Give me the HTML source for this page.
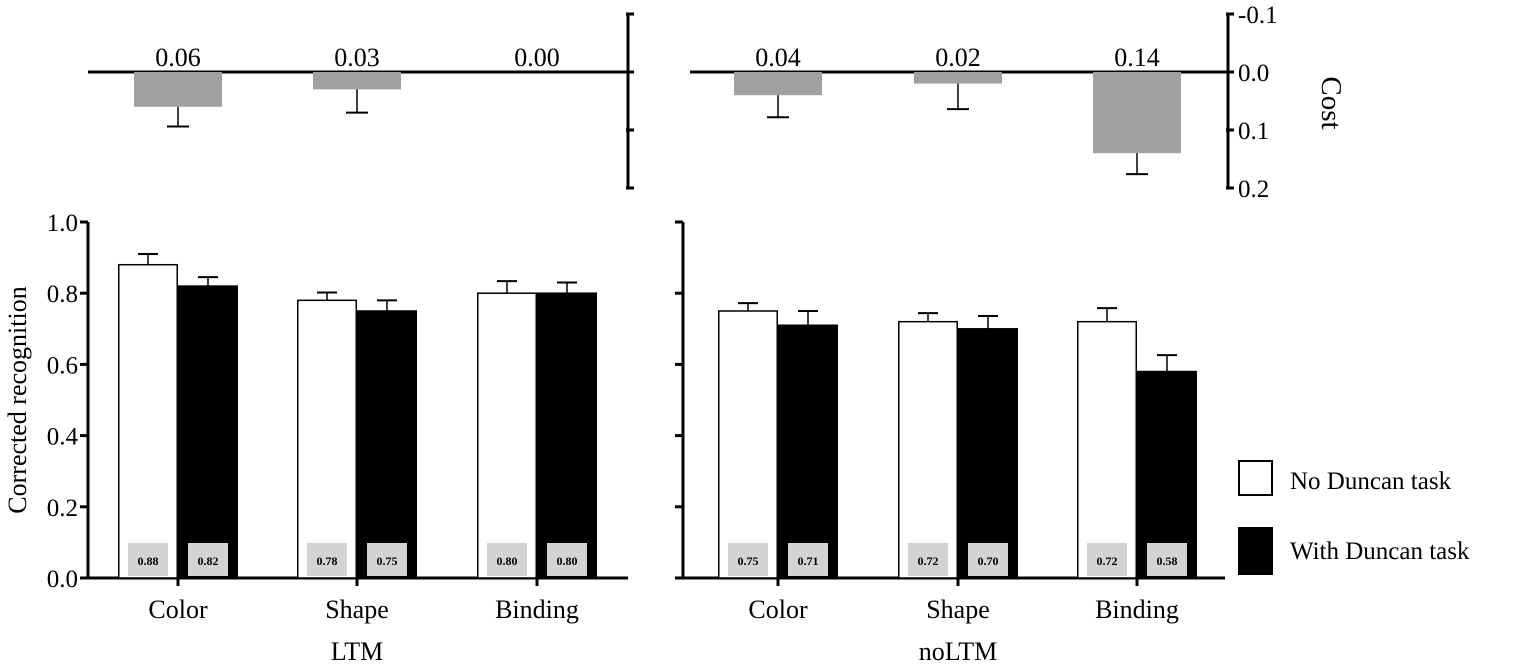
<!DOCTYPE html>
<html><head><meta charset="utf-8"><style>
body{margin:0;background:#fff;}
svg{display:block;font-family:"Liberation Serif",serif;}
</style></head><body>
<svg id="c" width="1535" height="666" viewBox="0 0 1535 666"></svg>
<script>
const categories=["Color","Shape","Binding"];
const panels=["LTM","noLTM"];
const costLTM=[0.06,0.03,0.00];
const costNoLTM=[0.04,0.02,0.14];
const costErrLTM=[0.034,0.040,0];
const costErrNoLTM=[0.038,0.044,0.036];
const noDuncanLTM=[0.88,0.78,0.80];
const withDuncanLTM=[0.82,0.75,0.80];
const noDuncanNoLTM=[0.75,0.72,0.72];
const withDuncanNoLTM=[0.71,0.70,0.58];
const errNoLTM_white=[0.022,0.024,0.038];
const errNoLTM_black=[0.04,0.036,0.046];
const errLTM_white=[0.03,0.022,0.034];
const errLTM_black=[0.025,0.03,0.03];
const costTicks=["-0.1","0.0","0.1","0.2"];
const costTickVals=[-0.1,0,0.1,0.2];
const recTicks=["0.0","0.2","0.4","0.6","0.8","1.0"];
const recTickVals=[0,0.2,0.4,0.6,0.8,1.0];

const svg=document.getElementById('c');
const NS='http://www.w3.org/2000/svg';
function mk(tag,attrs,text){const e=document.createElementNS(NS,tag);for(const k in attrs)e.setAttribute(k,attrs[k]);if(text!==undefined)e.textContent=text;svg.appendChild(e);return e;}
const yCost=v=>72+v*580;
const yRec=v=>578-v*356;
const panelX=[{x0:88,x1:628,cx:[178,357,537]},{x0:690,x1:1228,cx:[778,958,1137]}];
const costData=[costLTM,costNoLTM], costErr=[costErrLTM,costErrNoLTM];
const whites=[noDuncanLTM,noDuncanNoLTM], blacks=[withDuncanLTM,withDuncanNoLTM];
const wErr=[errLTM_white,errNoLTM_white], bErr=[errLTM_black,errNoLTM_black];

for(let p=0;p<2;p++){
  const P=panelX[p];
  const zl=mk('line',{x1:P.x0,x2:P.x1,y1:yCost(0),y2:yCost(0),stroke:'#000','stroke-width':3});
  
  for(let i=0;i<3;i++){
    const v=costData[p][i],cx=P.cx[i];
    const b=mk('rect',{x:cx-44,y:yCost(0),width:88,height:Math.max(0,yCost(v)-yCost(0)),fill:'#a0a0a3'});
    
    
    if(v>0){
      const ey=yCost(v+costErr[p][i]);
      mk('line',{x1:cx,x2:cx,y1:yCost(v),y2:ey,stroke:'#000','stroke-width':1.5});
      mk('line',{x1:cx-11,x2:cx+11,y1:ey,y2:ey,stroke:'#000','stroke-width':2});
    }
    const t=mk('text',{x:cx,y:yCost(0)-6,'text-anchor':'middle','font-size':26},v.toFixed(2));
    
  }
}
mk('line',{x1:628,x2:628,y1:yCost(-0.1),y2:yCost(0.2),stroke:'#000','stroke-width':3});
costTickVals.forEach(v=>mk('line',{x1:626,x2:634,y1:yCost(v),y2:yCost(v),stroke:'#000','stroke-width':3}));
mk('line',{x1:1228,x2:1228,y1:yCost(-0.1),y2:yCost(0.2),stroke:'#000','stroke-width':3});
costTickVals.forEach((v,i)=>{
  mk('line',{x1:1226,x2:1234,y1:yCost(v),y2:yCost(v),stroke:'#000','stroke-width':3});
  const t=mk('text',{x:1238,y:yCost(v)+9,'font-size':25},costTicks[i]);
  
});
const ct=mk('text',{x:1322,y:103,'font-size':29,'text-anchor':'middle',transform:'rotate(90 1322 103)'},'Cost');


for(let p=0;p<2;p++){
  const P=panelX[p], ax=p===0?88:683, xe=p===0?628:1225;
  mk('line',{x1:ax,x2:ax,y1:yRec(1),y2:yRec(0)+1.5,stroke:'#000','stroke-width':3});
  mk('line',{x1:ax,x2:xe,y1:yRec(0),y2:yRec(0),stroke:'#000','stroke-width':3});
  recTickVals.forEach((v,i)=>{
    mk('line',{x1:ax-8,x2:ax,y1:yRec(v),y2:yRec(v),stroke:'#000','stroke-width':3});
    if(p===0){const t=mk('text',{x:ax-10,y:yRec(v)+9,'text-anchor':'end','font-size':25},recTicks[i]);
      }
  });
  for(let i=0;i<3;i++){
    const cx=P.cx[i];
    mk('line',{x1:cx,x2:cx,y1:yRec(0),y2:yRec(0)+8,stroke:'#000','stroke-width':3});
    const cl=mk('text',{x:cx,y:618,'text-anchor':'middle','font-size':26},categories[i]);
    
    [[whites,wErr,-60,'#fff','no-duncan'],[blacks,bErr,0,'#000','with-duncan']].forEach(([arr,err,off,fill,nm])=>{
      const v=arr[p][i],x=cx+off,bx=x+30;
      const ey=yRec(v+err[p][i]);
      mk('line',{x1:bx,x2:bx,y1:yRec(v),y2:ey,stroke:'#000','stroke-width':1.5});
      mk('line',{x1:bx-10,x2:bx+10,y1:ey,y2:ey,stroke:'#000','stroke-width':2});
      const r=mk('rect',{x:x+0.75,y:yRec(v),width:58.5,height:yRec(0)-yRec(v),fill:fill,stroke:'#000','stroke-width':1.5});
      
      
      mk('rect',{x:bx-20,y:543,width:40,height:33,fill:'#d3d3d3'});
      const t=mk('text',{x:bx,y:565,'text-anchor':'middle','font-size':12,'font-weight':'bold'},v.toFixed(2));
      
    });
  }
  const pl=mk('text',{x:P.cx[1],y:660,'text-anchor':'middle','font-size':26},panels[p]);
  
}
const yt=mk('text',{x:26,y:400,'text-anchor':'middle','font-size':26,transform:'rotate(-90 26 400)'},'Corrected recognition');

const l1=mk('rect',{x:1239,y:461,width:33,height:34,fill:'#fff',stroke:'#000','stroke-width':2});

const lt1=mk('text',{x:1290,y:489,'font-size':25},'No Duncan task');

const l2=mk('rect',{x:1238,y:527,width:35,height:48,fill:'#000'});

const lt2=mk('text',{x:1290,y:559,'font-size':25},'With Duncan task');

</script>
</body></html>
